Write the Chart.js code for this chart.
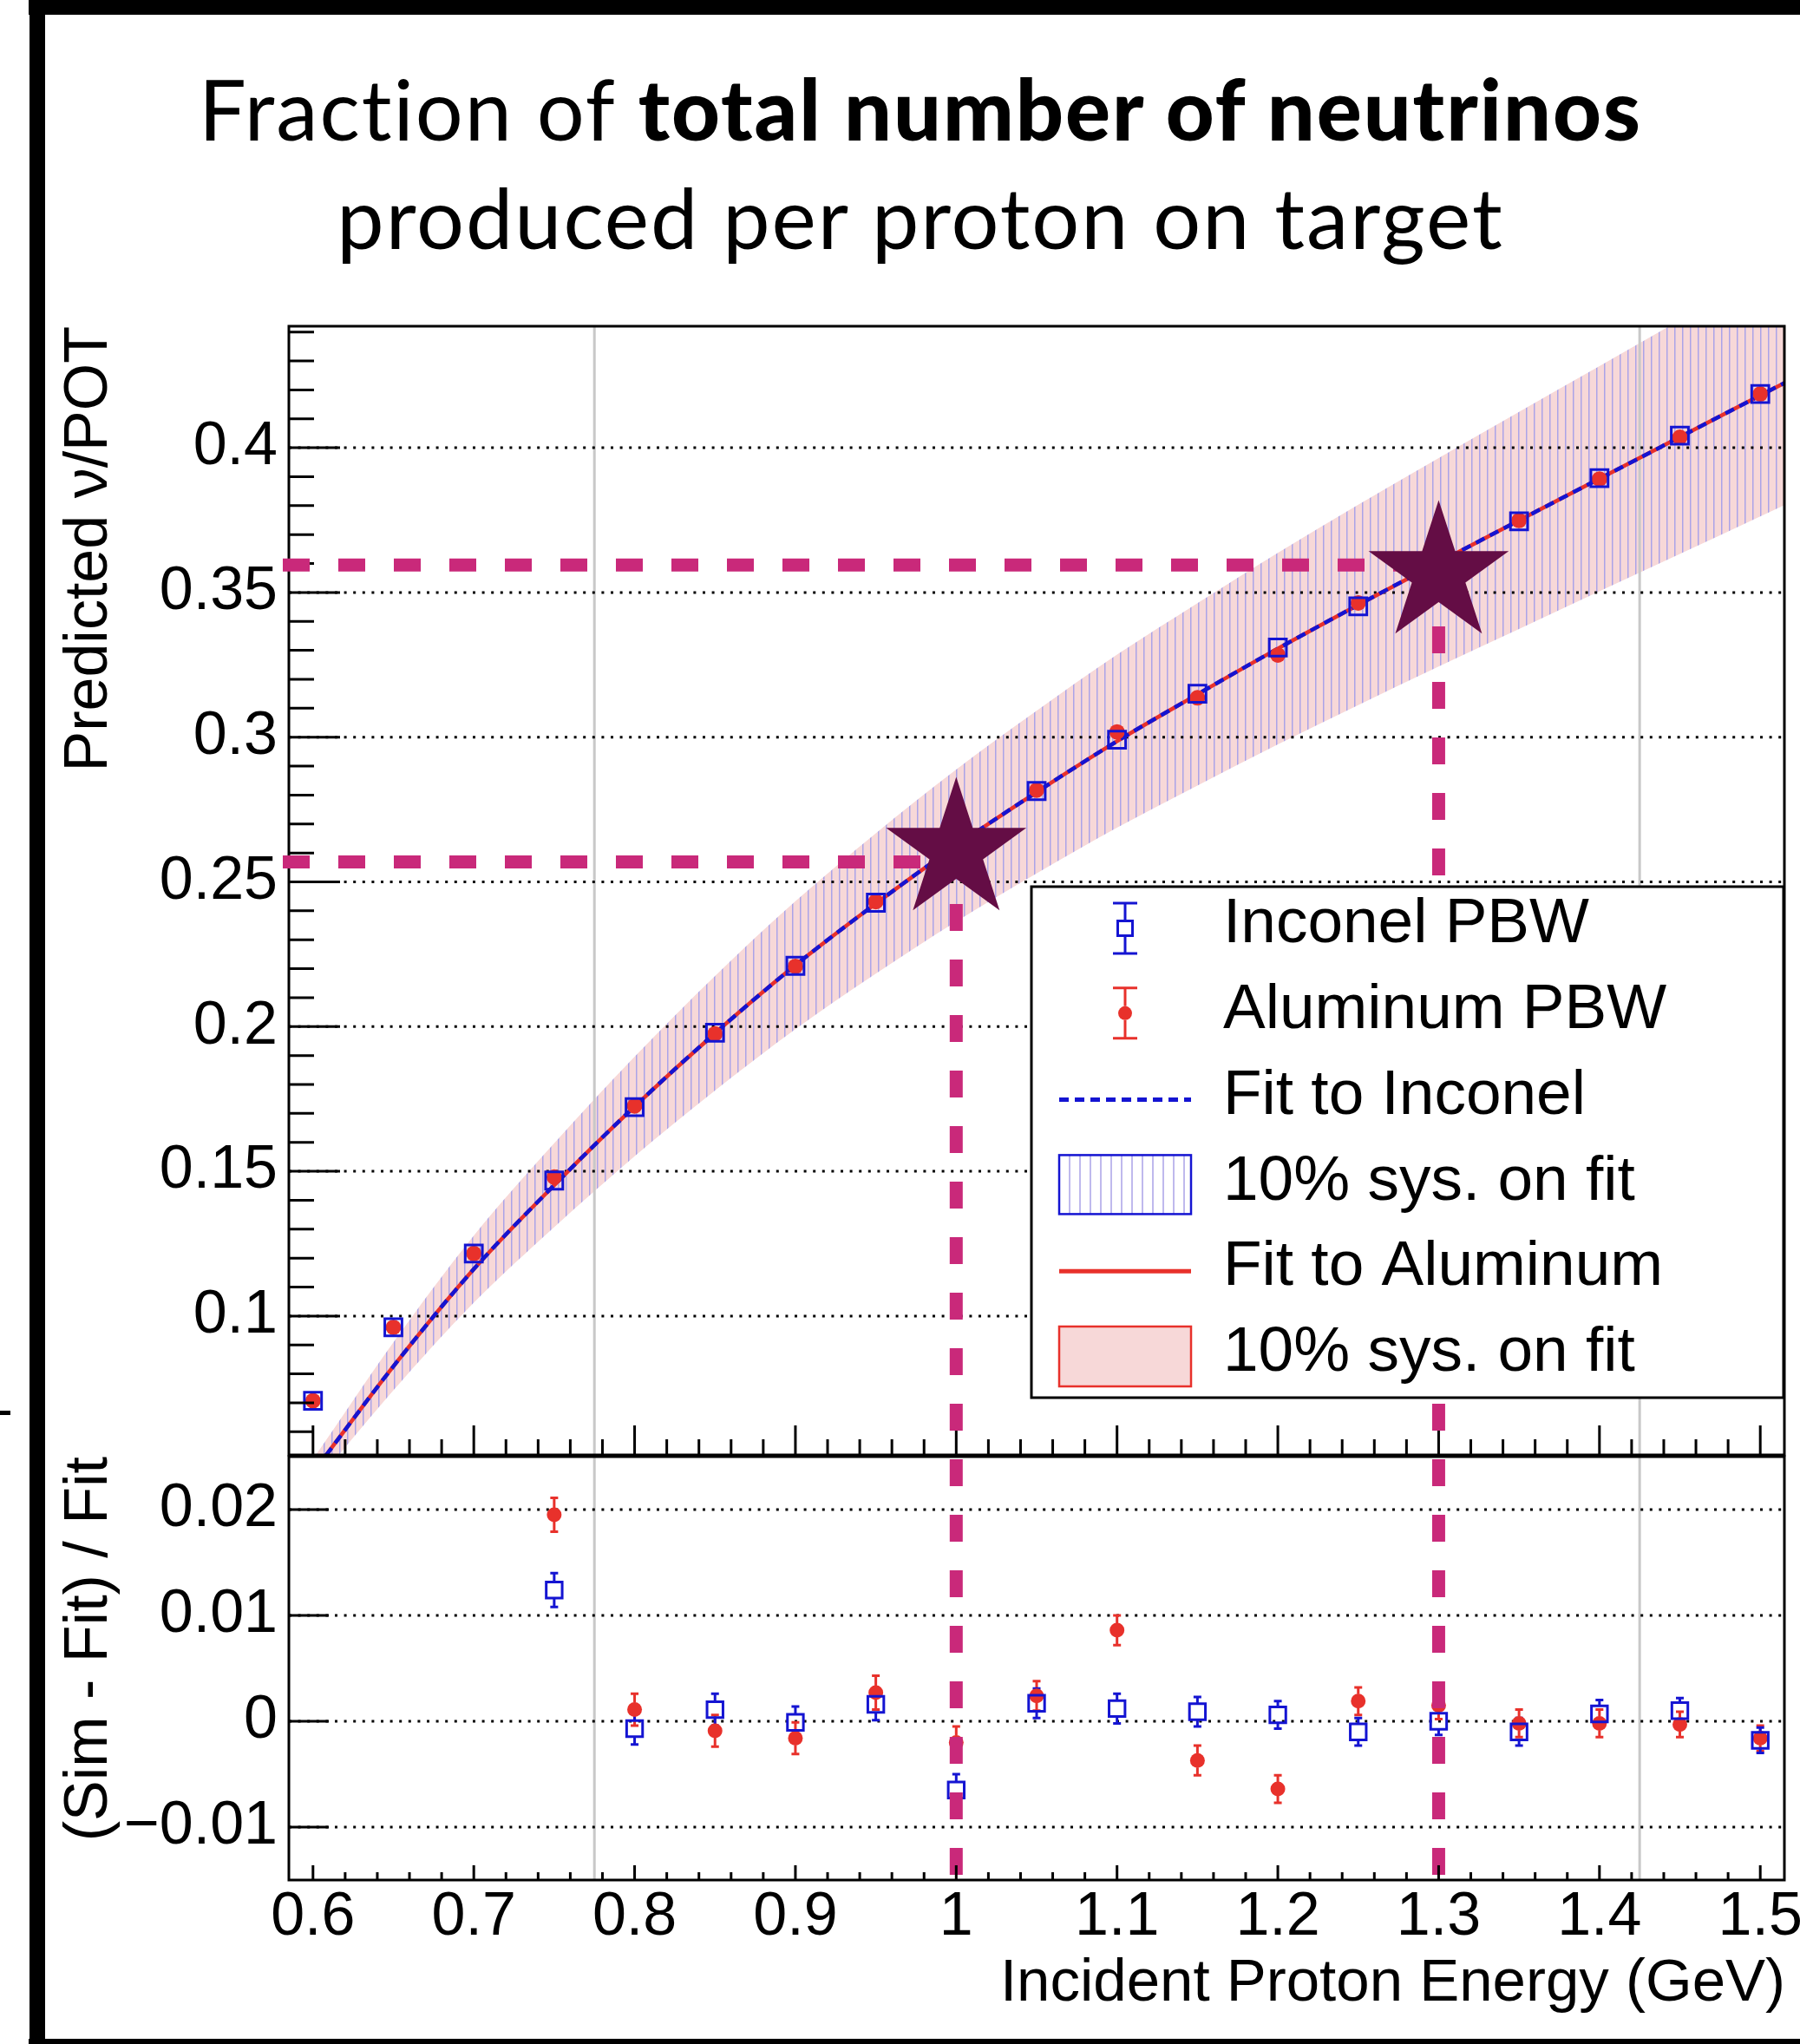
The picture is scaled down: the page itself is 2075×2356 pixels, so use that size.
<!DOCTYPE html>
<html>
<head>
<meta charset="utf-8">
<title>Neutrinos per proton on target</title>
<script src="https://cdn.jsdelivr.net/npm/chart.js@4.4.1/dist/chart.umd.min.js"></script>
<style>
  html, body { margin: 0; padding: 0; background: #fff; }
  body { position: relative; width: 2075px; height: 2356px; overflow: hidden; }
  .bar { position: absolute; background: #000; }
  #title { position: absolute; left: 61px; top: 62px; width: 2000px; text-align: center;
           font-family: Lato, "Noto Sans", sans-serif; font-size: 97px; line-height: 125px;
           letter-spacing: 2px; color: #000; }
  #title b { font-weight: 900; }
  canvas { position: absolute; left: 0; }
</style>
</head>
<body>
<div class="bar" style="left:33px;top:0;width:2042px;height:17px"></div>
<div class="bar" style="left:34px;top:0;width:18px;height:2356px"></div>
<div class="bar" style="left:33px;top:2350px;width:2042px;height:6px"></div>
<div class="bar" style="left:0;top:1626px;width:12px;height:5px"></div>
<div id="title">Fraction of <b>total number of neutrinos</b><br>produced per proton on target</div>
<canvas id="topPad" width="2075" height="1467" style="top:300px"></canvas>
<canvas id="ratioPad" width="2125" height="767" style="top:1589px"></canvas>
<script>
// simulated points (GeV, nu per POT)
const energies   = [0.6, 0.65, 0.7, 0.75, 0.8, 0.85, 0.9, 0.95, 1.0, 1.05, 1.1, 1.15, 1.2, 1.25, 1.3, 1.35, 1.4, 1.45, 1.5];
const inconelNu  = [0.0707, 0.0961, 0.1216, 0.1468, 0.1722, 0.1979, 0.2210, 0.2428, 0.2608, 0.2814, 0.2991, 0.3150, 0.3310, 0.3452, 0.3604, 0.3746, 0.3895, 0.4042, 0.4186];
const aluminumNu = [0.0707, 0.0961, 0.1216, 0.1480, 0.1726, 0.1975, 0.2208, 0.2432, 0.2620, 0.2817, 0.3018, 0.3136, 0.3284, 0.3464, 0.3609, 0.3749, 0.3892, 0.4036, 0.4186];

// fit curve and its 10% band
const fitX     = [0.59, 0.6, 0.65, 0.7, 0.75, 0.8, 0.85, 0.9, 0.95, 1.0, 1.05, 1.1, 1.15, 1.2, 1.25, 1.3, 1.35, 1.4, 1.45, 1.5, 1.515];
const fitNu    = [0.0390, 0.0460, 0.0826, 0.1162, 0.1452, 0.1724, 0.1977, 0.2212, 0.2425, 0.2625, 0.2810, 0.2986, 0.3148, 0.3306, 0.3457, 0.3604, 0.3749, 0.3893, 0.4037, 0.4181, 0.4224];
const bandHigh = [0.0429, 0.0506, 0.0909, 0.1278, 0.1597, 0.1896, 0.2175, 0.2433, 0.2668, 0.2888, 0.3091, 0.3285, 0.3463, 0.3637, 0.3803, 0.3964, 0.4124, 0.4282, 0.4441, 0.4599, 0.4646];
const bandLow  = [0.0351, 0.0414, 0.0743, 0.1046, 0.1307, 0.1552, 0.1779, 0.1991, 0.2183, 0.2363, 0.2529, 0.2687, 0.2833, 0.2975, 0.3111, 0.3244, 0.3374, 0.3504, 0.3633, 0.3763, 0.3802];

// (Sim - Fit) / Fit
const ratioX        = [0.75, 0.8, 0.85, 0.9, 0.95, 1.0, 1.05, 1.1, 1.15, 1.2, 1.25, 1.3, 1.35, 1.4, 1.45, 1.5];
const inconelRatio  = [0.0124, -0.0007, 0.0011, -0.0001, 0.0016, -0.0065, 0.0017, 0.0012, 0.0009, 0.0006, -0.0010, 0.0000, -0.0010, 0.0007, 0.0010, -0.0018];
const inconelErr    = [0.0016, 0.0015, 0.0015, 0.0015, 0.0015, 0.0015, 0.0014, 0.0014, 0.0014, 0.0013, 0.0013, 0.0013, 0.0013, 0.0013, 0.0012, 0.0012];
const aluminumRatio = [0.0195, 0.0011, -0.0009, -0.0016, 0.0027, -0.0020, 0.0024, 0.0086, -0.0037, -0.0064, 0.0019, 0.0015, -0.0002, -0.0002, -0.0003, -0.0016];
const aluminumErr   = [0.0016, 0.0015, 0.0015, 0.0015, 0.0016, 0.0015, 0.0014, 0.0014, 0.0014, 0.0013, 0.0013, 0.0013, 0.0013, 0.0013, 0.0012, 0.0012];

// highlighted operating points
const markX = [1.0, 1.3];
const markY = [0.2569, 0.3595];
const starY = [0.2608, 0.3564];
const grayX = [0.775, 1.425];

const xTicks      = [0.6, 0.7, 0.8, 0.9, 1.0, 1.1, 1.2, 1.3, 1.4, 1.5];
const yTicksTop   = [0.1, 0.15, 0.2, 0.25, 0.3, 0.35, 0.4];
const yTicksRatio = [-0.01, 0, 0.01, 0.02];
const legendLabels = ['Inconel PBW', 'Aluminum PBW', 'Fit to Inconel', '10% sys. on fit', 'Fit to Aluminum', '10% sys. on fit'];
const xTitle = 'Incident Proton Energy (GeV)';

const BLUE = '#1414d2', RED = '#e8312b', PINK = '#f7d8d8', HATCH = '#aba3e8';
const MAGENTA = '#c9297a', STAR = '#640d45', GRAY = '#c8c8c8';
const FAMILY = '"Liberation Sans", Arial, Helvetica, sans-serif';
const TICK_FONT = { family: FAMILY, size: 70, lineHeight: 1.2 };
const TOP_Y = 300, RATIO_Y = 1589, PAD = 90;
const X_MIN = 0.585, X_MAX = 1.515;
const DASH = [31, 33], DASH_PHASE = 18;

const xy = (xs, ys) => xs.map((x, i) => ({ x: x, y: ys[i] }));
const fmt = v => (v < 0 ? '\u2212' : '') + String(+Math.abs(v).toFixed(3));

function dotted(ctx, x1, x2, y) {
  ctx.save();
  ctx.strokeStyle = '#000';
  ctx.lineWidth = 3;
  ctx.setLineDash([3, 7.6]);
  ctx.beginPath();
  ctx.moveTo(x1, y);
  ctx.lineTo(x2, y);
  ctx.stroke();
  ctx.restore();
}

function drawBackLines(chart, yValues) {
  const { ctx, chartArea: a, scales: { x, y } } = chart;
  ctx.save();
  ctx.strokeStyle = GRAY;
  ctx.lineWidth = 3;
  grayX.forEach(v => {
    const px = x.getPixelForValue(v);
    ctx.beginPath();
    ctx.moveTo(px, a.top);
    ctx.lineTo(px, a.bottom);
    ctx.stroke();
  });
  ctx.restore();
  yValues.forEach(v => dotted(ctx, a.left, a.right, y.getPixelForValue(v)));
}

function magentaVertical(ctx, px, y1, y2, pageTop) {
  ctx.save();
  ctx.strokeStyle = MAGENTA;
  ctx.lineWidth = 15;
  ctx.setLineDash(DASH);
  ctx.lineDashOffset = (((pageTop + y1 - DASH_PHASE) % 64) + 64) % 64;
  ctx.beginPath();
  ctx.moveTo(px, y1);
  ctx.lineTo(px, y2);
  ctx.stroke();
  ctx.restore();
}

function drawTicks(chart, yMinor, yMajorLen, yMinorLen, xMajorLen, xMinorLen) {
  const { ctx, chartArea: a, scales: { x, y } } = chart;
  ctx.save();
  ctx.strokeStyle = '#000';
  ctx.lineWidth = 3;
  ctx.beginPath();
  yMinor.forEach(t => {
    if (t.v < y.min || t.v > y.max) return;
    const py = y.getPixelForValue(t.v);
    ctx.moveTo(a.left, py);
    ctx.lineTo(a.left + (t.major ? yMajorLen : yMinorLen), py);
  });
  for (let k = 29; k <= 76; k++) {
    const v = k * 0.02;
    if (v < X_MIN || v > X_MAX) continue;
    const px = x.getPixelForValue(v);
    ctx.moveTo(px, a.bottom);
    ctx.lineTo(px, a.bottom - (k % 5 === 0 ? xMajorLen : xMinorLen));
  }
  ctx.stroke();
  ctx.strokeRect(a.left, a.top, a.right - a.left, a.bottom - a.top);
  ctx.restore();
}

function drawStar(ctx, cx, cy, R) {
  const r = R * 0.382;
  ctx.beginPath();
  for (let i = 0; i < 10; i++) {
    const ang = -Math.PI / 2 + i * Math.PI / 5;
    const rad = i % 2 ? r : R;
    ctx.lineTo(cx + rad * Math.cos(ang), cy + rad * Math.sin(ang));
  }
  ctx.closePath();
  ctx.fill();
}

function errorSymbol(ctx, cx, cy, half, gap, color) {
  ctx.strokeStyle = color;
  ctx.lineWidth = 3;
  ctx.beginPath();
  ctx.moveTo(cx, cy - half); ctx.lineTo(cx, cy - gap);
  ctx.moveTo(cx, cy + gap); ctx.lineTo(cx, cy + half);
  ctx.moveTo(cx - 14, cy - half); ctx.lineTo(cx + 14, cy - half);
  ctx.moveTo(cx - 14, cy + half); ctx.lineTo(cx + 14, cy + half);
  ctx.stroke();
}

function drawLegend(chart) {
  const { ctx, chartArea: a } = chart;
  const L = a.right - 868, T = a.top + 646, W = 867, H = 589;
  const sx = L + 108, x1 = L + 32, x2 = L + 184;
  const rowY = i => T + 44 + 98.8 * i;
  ctx.save();
  ctx.fillStyle = '#fff';
  ctx.fillRect(L, T, W, H);
  ctx.strokeStyle = '#000';
  ctx.lineWidth = 3;
  ctx.strokeRect(L, T, W, H);

  ctx.fillStyle = '#000';
  ctx.font = '73px ' + FAMILY;
  ctx.textBaseline = 'middle';
  ctx.textAlign = 'left';
  legendLabels.forEach((label, i) => ctx.fillText(label, L + 221, rowY(i)));

  // Inconel
  let cy = rowY(0) + 4;
  errorSymbol(ctx, sx, cy, 29, 10, BLUE);
  ctx.strokeRect(sx - 8.5, cy - 8.5, 17, 17);
  // Aluminum
  cy = rowY(1) + 3;
  errorSymbol(ctx, sx, cy, 29, 8, RED);
  ctx.fillStyle = RED;
  ctx.beginPath();
  ctx.arc(sx, cy, 8, 0, Math.PI * 2);
  ctx.fill();
  // fit to Inconel
  cy = rowY(2) + 4;
  ctx.strokeStyle = BLUE;
  ctx.lineWidth = 5;
  ctx.setLineDash([11, 7]);
  ctx.beginPath(); ctx.moveTo(x1, cy); ctx.lineTo(x2, cy); ctx.stroke();
  ctx.setLineDash([]);
  // hatched box
  cy = rowY(3);
  ctx.fillStyle = '#fff';
  ctx.fillRect(x1, cy - 31, 152, 68);
  ctx.strokeStyle = HATCH;
  ctx.lineWidth = 1.5;
  ctx.beginPath();
  for (let hx = x1 + 12; hx < x2; hx += 12) { ctx.moveTo(hx, cy - 31); ctx.lineTo(hx, cy + 37); }
  ctx.stroke();
  ctx.strokeStyle = BLUE;
  ctx.lineWidth = 2.5;
  ctx.strokeRect(x1, cy - 31, 152, 68);
  // fit to Aluminum
  cy = rowY(4) + 4;
  ctx.strokeStyle = RED;
  ctx.lineWidth = 5;
  ctx.beginPath(); ctx.moveTo(x1, cy); ctx.lineTo(x2, cy); ctx.stroke();
  // pink box
  cy = rowY(5);
  ctx.fillStyle = PINK;
  ctx.fillRect(x1, cy - 31, 152, 69);
  ctx.strokeStyle = RED;
  ctx.lineWidth = 2.5;
  ctx.strokeRect(x1, cy - 31, 152, 69);
  ctx.restore();
}

const topMinor = [];
for (let k = 5; k <= 45; k++) topMinor.push({ v: k / 100, major: k % 5 === 0 });

const topDecor = {
  id: 'topDecor',
  afterDatasetDraw(chart, args) {
    if (args.index === 0) drawBackLines(chart, yTicksTop);
  },
  afterDraw(chart) {
    const { ctx, chartArea: a, scales: { x, y } } = chart;
    drawTicks(chart, topMinor, 59, 29, 34, 18);
    // guide lines to the two operating points
    markX.forEach((mx, i) => {
      const px = x.getPixelForValue(mx), py = y.getPixelForValue(markY[i]);
      ctx.save();
      ctx.strokeStyle = MAGENTA;
      ctx.lineWidth = 15;
      ctx.setLineDash(DASH);
      ctx.beginPath();
      ctx.moveTo(a.left - 7, py);
      ctx.lineTo(px, py);
      ctx.stroke();
      ctx.restore();
      magentaVertical(ctx, px, py, a.bottom, TOP_Y);
    });
    ctx.save();
    ctx.fillStyle = STAR;
    markX.forEach((mx, i) => drawStar(ctx, x.getPixelForValue(mx), y.getPixelForValue(starY[i]), 85));
    ctx.restore();
    drawLegend(chart);
  }
};

const ctxTop = document.getElementById('topPad').getContext('2d');
const tile = document.createElement('canvas');
tile.width = 9; tile.height = 9;
const tg = tile.getContext('2d');
tg.fillStyle = PINK; tg.fillRect(0, 0, 9, 9);
tg.fillStyle = HATCH; tg.fillRect(4, 0, 1.5, 9);
const hatch = ctxTop.createPattern(tile, 'repeat');

new Chart(ctxTop, {
  type: 'line',
  data: {
    datasets: [
      { data: xy(fitX, bandHigh), borderWidth: 0, borderColor: 'rgba(0,0,0,0)', pointRadius: 0, fill: '+1',
        backgroundColor: hatch, cubicInterpolationMode: 'monotone', order: 20 },
      { data: xy(fitX, bandLow), borderWidth: 0, borderColor: 'rgba(0,0,0,0)', pointRadius: 0, fill: false,
        cubicInterpolationMode: 'monotone', order: 21 },
      { data: xy(fitX, fitNu), borderColor: RED, borderWidth: 4.5, pointRadius: 0, fill: false,
        cubicInterpolationMode: 'monotone', order: 6 },
      { data: xy(fitX, fitNu), borderColor: BLUE, borderWidth: 4.5, borderDash: [11, 7], pointRadius: 0, fill: false,
        cubicInterpolationMode: 'monotone', order: 5 },
      { data: xy(energies, aluminumNu), showLine: false, pointStyle: 'circle', pointRadius: 9,
        pointBackgroundColor: RED, pointBorderWidth: 0, order: 4 },
      { data: xy(energies, inconelNu), showLine: false, pointStyle: 'rect', pointRadius: 14,
        pointBackgroundColor: 'rgba(0,0,0,0)', pointBorderColor: BLUE, pointBorderWidth: 3, order: 3 }
    ]
  },
  options: {
    responsive: false,
    animation: false,
    devicePixelRatio: 1,
    layout: { padding: { top: 76, right: 18, bottom: PAD, left: 0 } },
    plugins: { legend: { display: false }, tooltip: { enabled: false } },
    scales: {
      x: { type: 'linear', min: X_MIN, max: X_MAX, display: false },
      y: {
        type: 'linear', min: 0.052, max: 0.442,
        afterBuildTicks: s => { s.ticks = yTicksTop.map(v => ({ value: v })); },
        afterFit: s => { s.width = 333; },
        grid: { display: false, drawTicks: false },
        border: { display: false },
        ticks: { padding: 13, autoSkip: false, color: '#000', font: TICK_FONT, callback: v => fmt(v) },
        title: { display: true, text: 'Predicted \u03bd/POT', align: 'end', color: '#000', font: TICK_FONT,
                 padding: { top: 62, bottom: 0 } }
      }
    }
  },
  plugins: [topDecor]
});

function errorBars(chart, ys, errs, color, gap) {
  const { ctx, scales: { x, y } } = chart;
  ctx.save();
  ctx.strokeStyle = color;
  ctx.lineWidth = 3;
  ratioX.forEach((v, i) => {
    const px = x.getPixelForValue(v), py = y.getPixelForValue(ys[i]);
    const hi = y.getPixelForValue(ys[i] + errs[i]), lo = y.getPixelForValue(ys[i] - errs[i]);
    ctx.beginPath();
    if (py - gap > hi) { ctx.moveTo(px, hi); ctx.lineTo(px, py - gap); }
    if (py + gap < lo) { ctx.moveTo(px, py + gap); ctx.lineTo(px, lo); }
    ctx.moveTo(px - 4.5, hi); ctx.lineTo(px + 4.5, hi);
    ctx.moveTo(px - 4.5, lo); ctx.lineTo(px + 4.5, lo);
    ctx.stroke();
  });
  ctx.restore();
}

const ratioMinor = yTicksRatio.map(v => ({ v: v, major: true }));

const ratioDecor = {
  id: 'ratioDecor',
  beforeDatasetsDraw(chart) {
    drawBackLines(chart, yTicksRatio);
    errorBars(chart, aluminumRatio, aluminumErr, RED, 8);
    errorBars(chart, inconelRatio, inconelErr, BLUE, 10);
  },
  afterDatasetsDraw(chart) {
    const { ctx, chartArea: a, scales: { x } } = chart;
    markX.forEach(mx => magentaVertical(ctx, x.getPixelForValue(mx), a.top, a.bottom, RATIO_Y));
  },
  afterDraw(chart) {
    const { ctx, chartArea: a } = chart;
    drawTicks(chart, ratioMinor, 46, 46, 17, 9);
    ctx.save();
    ctx.fillStyle = '#000';
    ctx.font = '69px ' + FAMILY;
    ctx.textAlign = 'right';
    ctx.textBaseline = 'alphabetic';
    ctx.fillText(xTitle, a.right + 1, 2306 - RATIO_Y);
    ctx.restore();
  }
};

new Chart(document.getElementById('ratioPad'), {
  type: 'scatter',
  data: {
    datasets: [
      { data: xy(ratioX, aluminumRatio), pointStyle: 'circle', pointRadius: 8.5,
        pointBackgroundColor: RED, pointBorderWidth: 0, order: 2 },
      { data: xy(ratioX, inconelRatio), pointStyle: 'rect', pointRadius: 13,
        pointBackgroundColor: 'rgba(0,0,0,0)', pointBorderColor: BLUE, pointBorderWidth: 3, order: 1 }
    ]
  },
  options: {
    responsive: false,
    animation: false,
    devicePixelRatio: 1,
    layout: { padding: { top: PAD, right: 68, bottom: 0, left: 0 } },
    plugins: { legend: { display: false }, tooltip: { enabled: false } },
    scales: {
      x: {
        type: 'linear', min: X_MIN, max: X_MAX,
        afterBuildTicks: s => { s.ticks = xTicks.map(v => ({ value: v })); },
        afterFit: s => { s.height = 189; },
        grid: { display: false, drawTicks: false },
        border: { display: false },
        ticks: { padding: 9, autoSkip: false, maxRotation: 0, color: '#000',
                 font: { family: FAMILY, size: 70, lineHeight: 1 }, callback: v => fmt(v) }
      },
      y: {
        type: 'linear', min: -0.015, max: 0.025,
        afterBuildTicks: s => { s.ticks = yTicksRatio.map(v => ({ value: v })); },
        afterFit: s => { s.width = 333; },
        grid: { display: false, drawTicks: false },
        border: { display: false },
        ticks: { padding: 13, autoSkip: false, color: '#000', font: TICK_FONT, callback: v => fmt(v) },
        title: { display: true, text: '(Sim - Fit) / Fit', align: 'end', color: '#000', font: TICK_FONT,
                 padding: { top: 62, bottom: 0 } }
      }
    }
  },
  plugins: [ratioDecor]
});
</script>
</body>
</html>
